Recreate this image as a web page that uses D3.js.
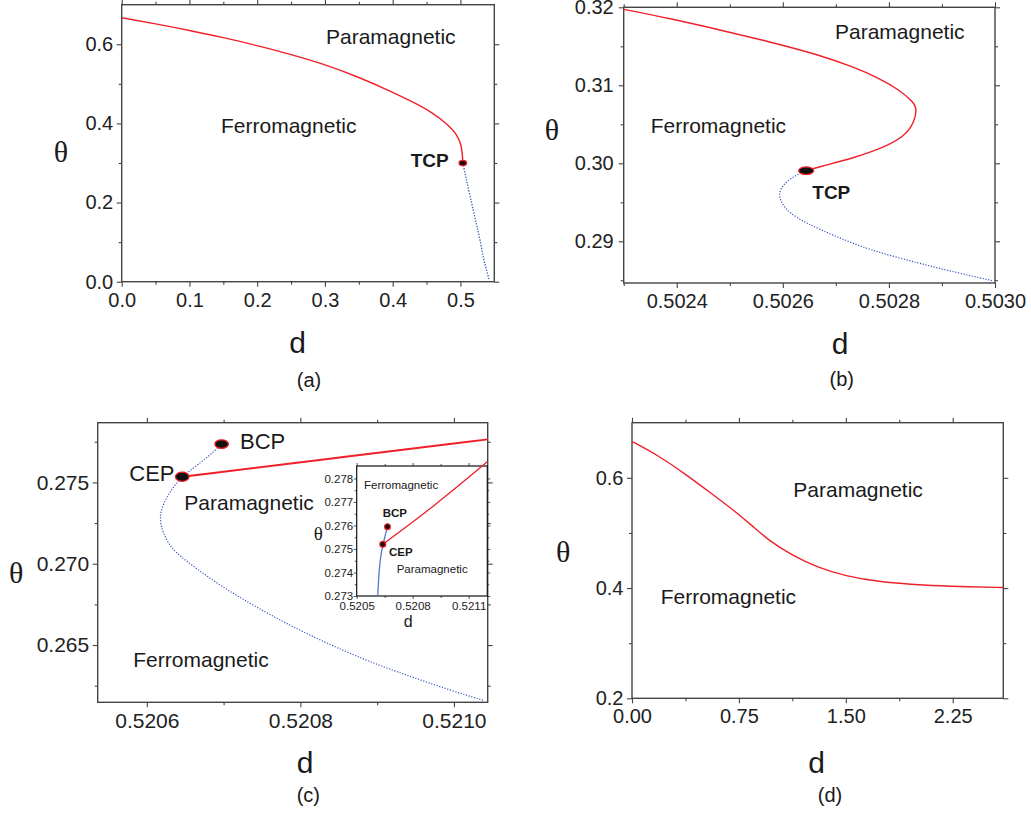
<!DOCTYPE html>
<html>
<head>
<meta charset="utf-8">
<script src="https://cdn.jsdelivr.net/npm/d3@7"></script>
<style>
  body { margin: 0; background: #fff; }
  svg text { font-family: "Liberation Sans", Arial, sans-serif; fill: #222; }
</style>
</head>
<body>
<svg id="chart" width="1031" height="815"></svg>
<script>
// ---- data ----
// (a) full phase diagram
const aSecondD = [0, 0.05, 0.10, 0.15, 0.20, 0.25, 0.30, 0.35, 0.40, 0.43, 0.46, 0.48, 0.49, 0.495, 0.499, 0.5015, 0.503, 0.5035];
const aSecondTheta = [0.667, 0.652, 0.635, 0.617, 0.597, 0.574, 0.549, 0.517, 0.479, 0.454, 0.426, 0.399, 0.381, 0.369, 0.355, 0.340, 0.320, 0.300];
const aFirstD = [0.5035, 0.508, 0.513, 0.519, 0.524, 0.529, 0.534, 0.538, 0.5425];
const aFirstTheta = [0.300, 0.265, 0.225, 0.181, 0.143, 0.106, 0.058, 0.033, 0.004];
const aTcp = [0.5035, 0.300];

// (b) zoom around the tricritical point
const bSecondD = [0.50230, 0.502387, 0.502481, 0.502575, 0.502669, 0.502732, 0.502782, 0.50282, 0.502845, 0.502853, 0.502848, 0.502832, 0.502795, 0.502732, 0.502669, 0.502644];
const bSecondTheta = [0.31974, 0.31859, 0.31709, 0.31559, 0.31388, 0.31238, 0.3109, 0.3094, 0.3079, 0.30705, 0.30533, 0.30363, 0.30213, 0.30064, 0.29956, 0.29905];
const bFirstD = [0.502644, 0.502619, 0.5026, 0.502592, 0.502597, 0.502613, 0.502644, 0.502701, 0.502763, 0.502857, 0.50292, 0.502995];
const bFirstTheta = [0.29905, 0.29828, 0.29722, 0.29615, 0.29487, 0.29359, 0.29231, 0.29059, 0.28888, 0.28718, 0.2861, 0.28495];
const bTcp = [0.502644, 0.29905];

// (c) critical end point / bicritical point
const cSecondD = [0.5206461, 0.5208426, 0.521044];
const cSecondTheta = [0.275344, 0.276482, 0.277645];
const cFirstD = [0.5206974, 0.5206799, 0.5206626, 0.5206461, 0.5206344, 0.5206236, 0.5206162, 0.5206193, 0.5206301, 0.5206474, 0.5206909, 0.5207342, 0.5207775, 0.520821, 0.5208643, 0.5209077, 0.5209511, 0.5209944, 0.5210378];
const cFirstTheta = [0.277355, 0.276574, 0.275959, 0.275344, 0.274729, 0.273911, 0.272989, 0.272066, 0.271039, 0.270300, 0.268788, 0.267558, 0.266427, 0.265406, 0.264483, 0.263659, 0.262946, 0.262226, 0.261611];
const cBcp = [0.5206974, 0.277355];
const cCep = [0.5206461, 0.275344];

// (c) inset
const insetSecondD = [0.52064, 0.520912, 0.5212];
const insetSecondTheta = [0.2752, 0.2768, 0.27871];
const insetFirstD = [0.520665, 0.52064, 0.520625, 0.520618, 0.520613];
const insetFirstTheta = [0.27595, 0.2752, 0.27453, 0.27382, 0.273];
const insetBcp = [0.520665, 0.27595];
const insetCep = [0.52064, 0.2752];

// (d) second-order line only
const dSecondD = [0.002, 0.185, 0.372, 0.560, 0.700, 0.841, 0.958, 1.122, 1.309, 1.496, 1.730, 2.058, 2.292, 2.605];
const dSecondTheta = [0.6657, 0.6404, 0.6072, 0.571, 0.5439, 0.5137, 0.4865, 0.4594, 0.4364, 0.4219, 0.411, 0.405, 0.4027, 0.4009];

const RED = "#f0202a";
const BLUE = "#3557bd";
const FRAME = "#444";
const SERIF = "'Liberation Serif', 'Times New Roman', serif";

const svg = d3.select("#chart");

function drawAxis(g, gen, scale, pos, major, minor, fmt, o) {
  const maj = g.append("g").attr("transform", pos)
    .call(gen(scale).tickValues(major).tickSize(o.major).tickPadding(o.pad)
      .tickFormat(fmt ? d3.format(fmt) : ""));
  const mn = g.append("g").attr("transform", pos)
    .call(gen(scale).tickValues(minor).tickSize(o.minor).tickFormat(""));
  [maj, mn].forEach(s => {
    s.attr("font-family", null).attr("font-size", null);
    s.select(".domain").remove();
    s.selectAll("line").attr("stroke", FRAME).attr("stroke-width", o.lw);
  });
  maj.selectAll("text").attr("font-size", o.font).style("fill", "#222");
}

function panel(c) {
  const x = d3.scaleLinear().domain(c.xDomain).range([c.left, c.right]);
  const y = d3.scaleLinear().domain(c.yDomain).range([c.bottom, c.top]);
  const g = svg.append("g");
  const o = c.axis;
  if (c.fill) {
    g.append("rect").attr("x", c.left).attr("y", c.top)
      .attr("width", c.right - c.left).attr("height", c.bottom - c.top)
      .attr("fill", "#fff");
  }
  drawAxis(g, d3.axisBottom, x, `translate(0,${c.bottom})`, c.xMajor, c.xMinor, c.xFmt, o);
  drawAxis(g, d3.axisTop, x, `translate(0,${c.top})`, c.xMajor, c.xMinor, null, o);
  drawAxis(g, d3.axisLeft, y, `translate(${c.left},0)`, c.yMajor, c.yMinor, c.yFmt, { ...o, pad: o.ypad });
  drawAxis(g, d3.axisRight, y, `translate(${c.right},0)`, c.yMajor, c.yMinor, null, o);
  g.append("rect").attr("x", c.left).attr("y", c.top)
    .attr("width", c.right - c.left).attr("height", c.bottom - c.top)
    .attr("fill", "none").attr("stroke", c.frameColor || FRAME).attr("stroke-width", c.frameWidth || 1.4);
  return { g, x, y };
}

function curve(p, ds, ts, color, width, dash) {
  const line = d3.line().x(d => p.x(d[0])).y(d => p.y(d[1]))
    .curve(d3.curveBasis);
  p.g.append("path").datum(d3.zip(ds, ts)).attr("d", line)
    .attr("fill", "none").attr("stroke", color).attr("stroke-width", width)
    .attr("stroke-dasharray", dash || null);
}

function marker(p, pt, rx, ry) {
  p.g.append("ellipse").attr("cx", p.x(pt[0])).attr("cy", p.y(pt[1]))
    .attr("rx", rx).attr("ry", ry).attr("fill", "#111")
    .attr("stroke", RED).attr("stroke-width", 1.2);
}

function label(p, txt, x, y, size, opts = {}) {
  const t = p.g.append("text").attr("x", x).attr("y", y).text(txt)
    .attr("font-size", size)
    .attr("font-weight", opts.bold ? "bold" : null)
    .attr("text-anchor", opts.anchor || "start")
    .style("fill", "#1a1a1a");
  if (opts.serif) t.style("font-family", SERIF);
}

const mainAxis = { major: 5, minor: 3, pad: 6, ypad: 3.5, lw: 1.1, font: 20 };

// ---- (a) ----
const pa = panel({
  left: 121.7, right: 494.3, top: 4.7, bottom: 281.7,
  xDomain: [0, 0.55], yDomain: [0, 0.7],
  xMajor: [0, 0.1, 0.2, 0.3, 0.4, 0.5], xMinor: [0.05, 0.15, 0.25, 0.35, 0.45],
  yMajor: [0, 0.2, 0.4, 0.6], yMinor: [0.1, 0.3, 0.5],
  xFmt: ".1f", yFmt: ".1f", axis: mainAxis
});
curve(pa, aSecondD, aSecondTheta, RED, 1.4);
curve(pa, aFirstD, aFirstTheta, BLUE, 1.3, "1.3,1.5");
marker(pa, aTcp, 3.8, 2.6);
label(pa, "Paramagnetic", 326, 44.3, 21);
label(pa, "Ferromagnetic", 221, 133.3, 21);
label(pa, "TCP", 410.7, 166.7, 19, { bold: true });
label(pa, "θ", 61, 161.5, 30, { serif: true, anchor: "middle" });
label(pa, "d", 297.7, 353.3, 30, { anchor: "middle" });
label(pa, "(a)", 309, 387, 20, { anchor: "middle" });

// ---- (b) ----
const pb = panel({
  left: 623.7, right: 995, top: 7.3, bottom: 283,
  xDomain: [0.5023, 0.5030], yDomain: [0.28465, 0.32],
  xMajor: [0.5024, 0.5026, 0.5028, 0.5030], xMinor: [0.5023, 0.5025, 0.5027, 0.5029],
  yMajor: [0.29, 0.30, 0.31, 0.32], yMinor: [0.285, 0.295, 0.305, 0.315],
  xFmt: ".4f", yFmt: ".2f", axis: { ...mainAxis, ypad: 5 }
});
curve(pb, bSecondD, bSecondTheta, RED, 1.4);
curve(pb, bFirstD, bFirstTheta, BLUE, 1.2, "1.2,1.6");
marker(pb, bTcp, 7.5, 3.8);
label(pb, "Paramagnetic", 835, 39, 21);
label(pb, "Ferromagnetic", 650.7, 133.3, 21);
label(pb, "TCP", 812.3, 199.3, 19, { bold: true });
label(pb, "θ", 552, 140, 30, { serif: true, anchor: "middle" });
label(pb, "d", 840, 354, 30, { anchor: "middle" });
label(pb, "(b)", 841.7, 385.5, 20, { anchor: "middle" });

// ---- (c) ----
const pc = panel({
  left: 97.7, right: 487.7, top: 422.7, bottom: 702.3,
  xDomain: [0.520536, 0.521044], yDomain: [0.26148, 0.27867],
  xMajor: [0.5206, 0.5208, 0.5210], xMinor: [0.5207, 0.5209],
  yMajor: [0.265, 0.270, 0.275], yMinor: [0.2625, 0.2675, 0.2725, 0.2775],
  xFmt: ".4f", yFmt: ".3f", axis: { ...mainAxis, font: 21 }
});
curve(pc, cSecondD, cSecondTheta, RED, 2);
curve(pc, cFirstD, cFirstTheta, BLUE, 1.2, "1.2,1.6");
marker(pc, cBcp, 6.8, 4.3);
marker(pc, cCep, 6.8, 4.6);
label(pc, "BCP", 240, 449.3, 22);
label(pc, "CEP", 129.3, 481, 22);
label(pc, "Paramagnetic", 184.3, 510, 21);
label(pc, "Ferromagnetic", 133.3, 666.7, 21);
label(pc, "θ", 16.3, 583.3, 30, { serif: true, anchor: "middle" });
label(pc, "d", 305, 773.3, 30, { anchor: "middle" });
label(pc, "(c)", 308.3, 801.5, 20, { anchor: "middle" });

// inset of (c)
const pi = panel({
  left: 356.7, right: 487.3, top: 466, bottom: 596,
  xDomain: [0.5205, 0.5212], yDomain: [0.273, 0.27853],
  xMajor: [0.5205, 0.5208, 0.5211], xMinor: [0.52065, 0.52095],
  yMajor: [0.273, 0.274, 0.275, 0.276, 0.277, 0.278], yMinor: [0.2735, 0.2745, 0.2755, 0.2765, 0.2775],
  xFmt: ".4f", yFmt: ".3f", fill: true, frameColor: "#111", frameWidth: 1.2,
  axis: { major: 3, minor: 2, pad: 2.5, ypad: 0.5, lw: 0.9, font: 11.5 }
});
curve(pi, insetSecondD, insetSecondTheta, RED, 1.3);
curve(pi, insetFirstD, insetFirstTheta, "#5577cc", 1.3);
marker(pi, insetBcp, 2.9, 2.9);
marker(pi, insetCep, 3, 3);
label(pi, "Ferromagnetic", 364, 489.3, 11.5);
label(pi, "BCP", 382.7, 517.3, 11.5, { bold: true });
label(pi, "CEP", 389, 556, 11.5, { bold: true });
label(pi, "Paramagnetic", 396.7, 572.7, 11.5);
label(pi, "θ", 318.3, 540, 19, { serif: true, anchor: "middle" });
label(pi, "d", 408.3, 626.7, 16, { anchor: "middle" });

// ---- (d) ----
const pd = panel({
  left: 632, right: 1003.3, top: 422.7, bottom: 698.3,
  xDomain: [0, 2.605], yDomain: [0.2, 0.7],
  xMajor: [0, 0.75, 1.5, 2.25], xMinor: [0.375, 1.125, 1.875],
  yMajor: [0.2, 0.4, 0.6], yMinor: [0.3, 0.5],
  xFmt: ".2f", yFmt: ".1f", axis: mainAxis
});
curve(pd, dSecondD, dSecondTheta, RED, 1.4);
label(pd, "Paramagnetic", 793.3, 496.7, 21);
label(pd, "Ferromagnetic", 660.7, 604, 21);
label(pd, "θ", 563.3, 561.7, 30, { serif: true, anchor: "middle" });
label(pd, "d", 816.7, 772.7, 30, { anchor: "middle" });
label(pd, "(d)", 830, 801.5, 20, { anchor: "middle" });
</script>
</body>
</html>
